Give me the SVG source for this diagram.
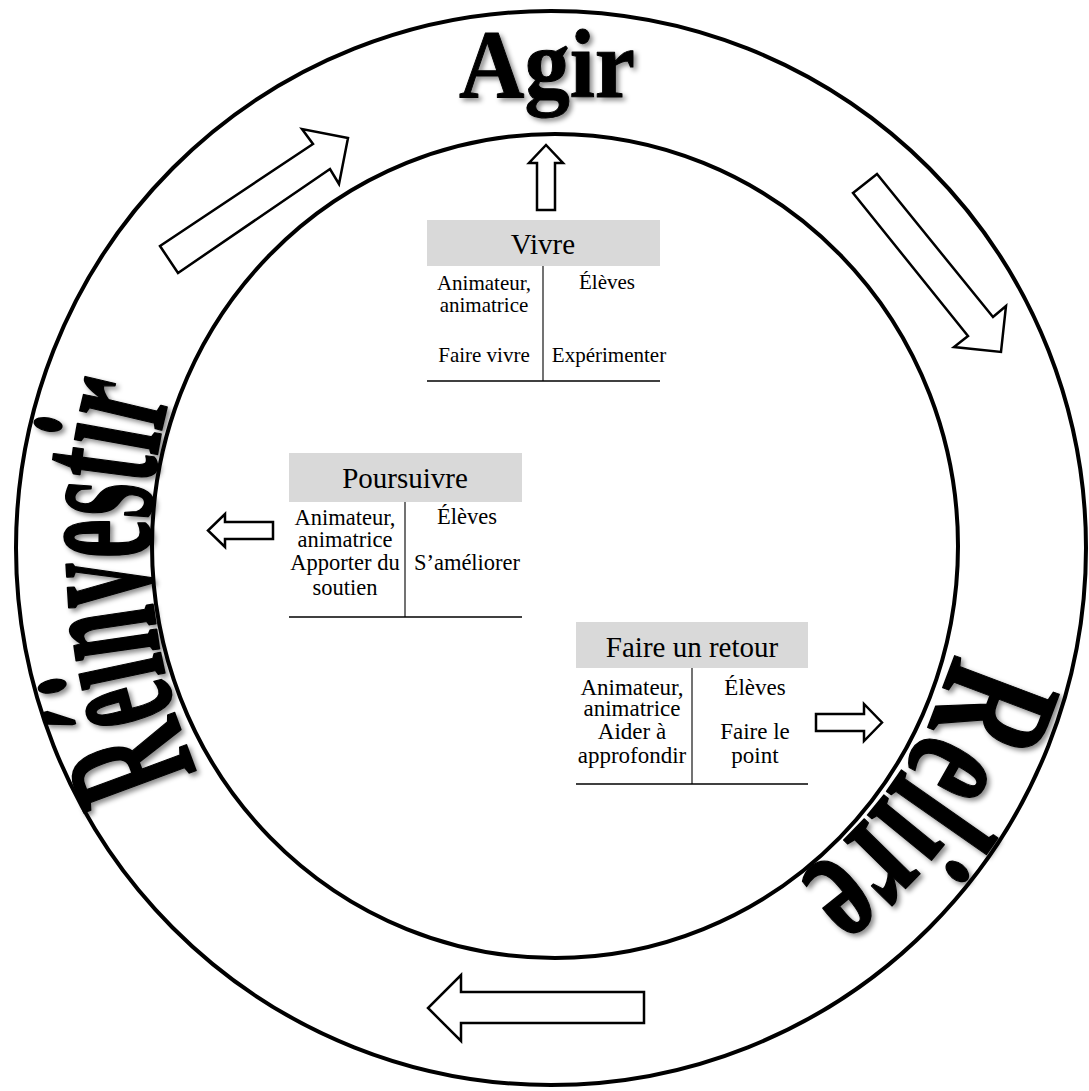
<svg xmlns="http://www.w3.org/2000/svg" width="1089" height="1091" viewBox="0 0 1089 1091">
<defs>
<style>
.ring{fill:none;stroke:#000;stroke-width:4}
.big{font-family:"Liberation Serif","Times New Roman",serif;font-weight:bold;fill:#000;stroke:#000;stroke-linejoin:round}
.hd{fill:#d9d9d9}
.ht{font-family:"Liberation Serif","Times New Roman",serif;font-size:29px;fill:#000;text-anchor:middle}
.bt{font-family:"Liberation Serif","Times New Roman",serif;fill:#000;text-anchor:middle}
.rule{stroke:#000;stroke-width:1.5}
.div{stroke:#444;stroke-width:1.5}
.arr{fill:#fff;stroke:#000;stroke-width:2.5;stroke-linejoin:miter}
</style>
<filter id="sh" x="-20%" y="-20%" width="140%" height="140%">
<feDropShadow dx="3" dy="3" stdDeviation="2.5" flood-color="#000" flood-opacity="0.45"/>
</filter>
<path id="pR" d="M 197.3 772.3 A 570 570 0 0 1 174.9 378.3"/>
<path id="pL" d="M 954 652.6 A 412 412 0 0 1 790 884"/>
</defs>
<rect width="1089" height="1091" fill="#fff"/>
<g id="rings">
<ellipse class="ring" cx="551" cy="548" rx="535" ry="537"/>
<ellipse class="ring" cx="555" cy="546" rx="403" ry="412"/>
</g>
<g id="titles" filter="url(#sh)">
<text id="agir" class="big" x="547" y="97" font-size="97" text-anchor="middle" textLength="176" lengthAdjust="spacingAndGlyphs" stroke-width="1">Agir</text>
<text id="reinvestir" class="big" font-size="182" stroke-width="2.2"><textPath href="#pR" textLength="386" lengthAdjust="spacingAndGlyphs">Réinvestir</textPath></text>
<text id="relire" class="big" font-size="170" stroke-width="1.5"><textPath href="#pL" textLength="282" lengthAdjust="spacingAndGlyphs">Relire</textPath></text>
</g>
<g id="connectors">
<polygon class="arr" points="537,210 537,163 529,163 546,145 563,163 555,163 555,210" stroke-width="2"/>
<polygon class="arr" points="273,522 225,522 225,514 208,530.5 225,547 225,539 273,539"/>
<polygon class="arr" points="816,714 864,714 864,704 882,722.5 864,741 864,731 816,731"/>
<polygon class="arr" points="644,992 461,992 461,975 428,1008 461,1041 461,1023 644,1023" stroke-width="3"/>
<polygon class="arr" points="160,246 313,144 302,129 348,138 339,184 330,169 178,273"/>
<polygon class="arr" points="853,193 877,174 993,317 1006,306 1001,352 954,347 968,336"/>
</g>
<g id="vivre">
<rect class="hd" x="427" y="220" width="233" height="46"/>
<text class="ht" x="543" y="254" font-size="30">Vivre</text>
<line class="div" x1="543" y1="266" x2="543" y2="381"/>
<line class="rule" x1="427" y1="381" x2="660" y2="381"/>
<g class="bt" font-size="21">
<text x="484" y="290">Animateur,</text>
<text x="484" y="312">animatrice</text>
<text x="484" y="362">Faire vivre</text>
<text x="607" y="289">Élèves</text>
<text x="609" y="362">Expérimenter</text>
</g>
</g>
<g id="poursuivre">
<rect class="hd" x="289" y="453" width="233" height="49"/>
<text class="ht" x="405" y="488">Poursuivre</text>
<line class="div" x1="405" y1="502" x2="405" y2="617"/>
<line class="rule" x1="289" y1="617" x2="522" y2="617"/>
<g class="bt" font-size="22.5">
<text x="345" y="525">Animateur,</text>
<text x="345" y="547">animatrice</text>
<text x="345" y="570">Apporter du</text>
<text x="345" y="595">soutien</text>
<text x="467" y="524">Élèves</text>
<text x="467" y="570">S’améliorer</text>
</g>
</g>
<g id="faire-un-retour">
<rect class="hd" x="576" y="622" width="232" height="46"/>
<text class="ht" x="692" y="657">Faire un retour</text>
<line class="div" x1="692" y1="668" x2="692" y2="784"/>
<line class="rule" x1="576" y1="784" x2="808" y2="784"/>
<g class="bt" font-size="23">
<text x="632" y="695">Animateur,</text>
<text x="632" y="716">animatrice</text>
<text x="632" y="739">Aider à</text>
<text x="632" y="763">approfondir</text>
<text x="755" y="695">Élèves</text>
<text x="755" y="739">Faire le</text>
<text x="755" y="763">point</text>
</g>
</g>
</svg>
